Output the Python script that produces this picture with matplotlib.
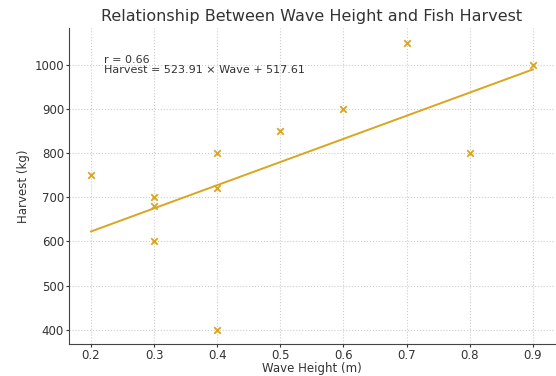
import numpy as np
import matplotlib
matplotlib.use("Agg")
import matplotlib.pyplot as plt

# wave height (m) and harvest (kg)
wave = [0.2, 0.3, 0.3, 0.3, 0.4, 0.4, 0.4, 0.5, 0.6, 0.7, 0.8, 0.9]
harvest = [750, 700, 680, 600, 800, 720, 400, 850, 900, 1050, 800, 1000]

x = np.array(wave)
y = np.array(harvest)
slope, intercept = np.polyfit(x, y, 1)
r = np.corrcoef(x, y)[0, 1]

color = "#DAA520"
txt = "#333333"

fig, ax = plt.subplots(figsize=(5.56, 3.76), dpi=100)
fig.subplots_adjust(left=0.124, right=0.998, top=0.925, bottom=0.085)

ax.scatter(x, y, marker="x", color=color, s=22, linewidths=1.3, zorder=3)
xs = np.array([x.min(), x.max()])
ax.plot(xs, slope * xs + intercept, color=color, lw=1.4, zorder=2)

ax.text(0.22, 1000, f"r = {r:.2f}\nHarvest = {slope:.2f} × Wave + {intercept:.2f}",
        fontsize=8, color=txt, va="center", ha="left", linespacing=1.0)

ax.set_title("Relationship Between Wave Height and Fish Harvest", fontsize=11.5, color=txt, pad=5)
ax.set_xlabel("Wave Height (m)", fontsize=8.5, color=txt, labelpad=0)
ax.set_ylabel("Harvest (kg)", fontsize=8.5, color=txt, labelpad=3)
ax.set_yticks([400, 500, 600, 700, 800, 900, 1000])
ax.tick_params(labelsize=8.5, colors=txt, length=2, pad=1.5)
ax.grid(True, linestyle=":", color="#cccccc", lw=0.8)
ax.set_axisbelow(True)
for s in ["top", "right"]:
    ax.spines[s].set_visible(False)
for s in ["left", "bottom"]:
    ax.spines[s].set_color("#444444")

fig.savefig("out.png", dpi=100)
